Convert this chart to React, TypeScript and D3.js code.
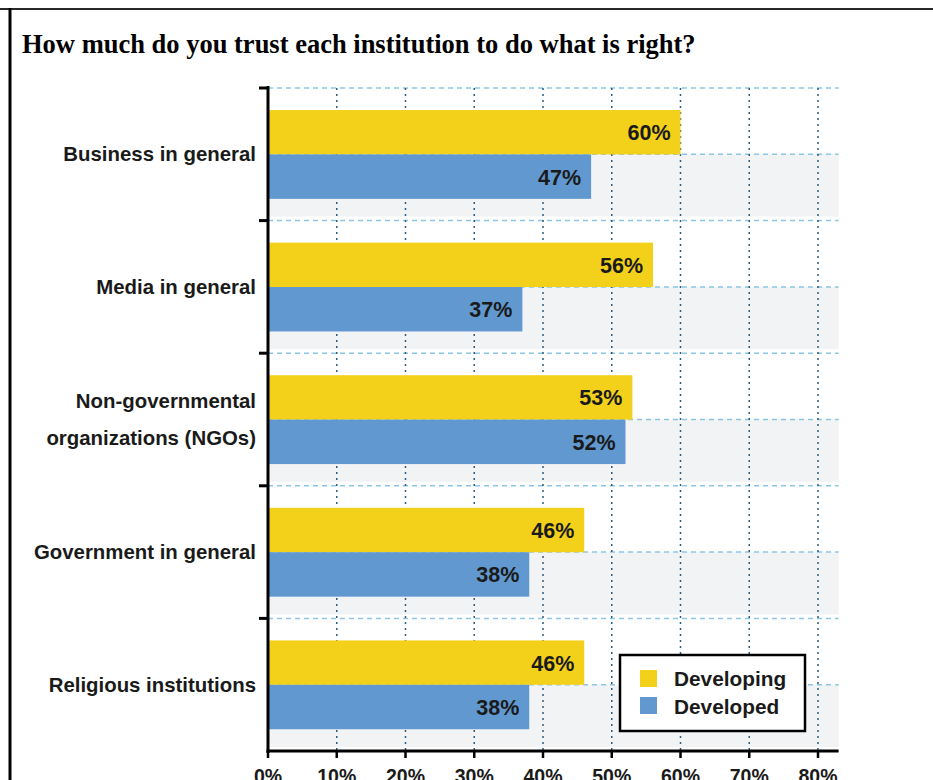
import React from "react";
import * as d3 from "d3";

const categories = [
  "Business in general",
  "Media in general",
  "Non-governmental organizations (NGOs)",
  "Government in general",
  "Religious institutions",
];
const categoryLines = [
  ["Business in general"],
  ["Media in general"],
  ["Non-governmental", "organizations (NGOs)"],
  ["Government in general"],
  ["Religious institutions"],
];
const seriesNames = ["Developing", "Developed"];
const developing = [60, 56, 53, 46, 46];
const developed = [47, 37, 52, 38, 38];
const xTicks = [0, 10, 20, 30, 40, 50, 60, 70, 80];
const title = "How much do you trust each institution to do what is right?";

const colors = ["#f3d11b", "#6198d0"];
const SANS = "'Liberation Sans', Arial, Helvetica, sans-serif";
const SERIF = "'Liberation Serif', 'Times New Roman', serif";

export default function App() {
  const W = 933;
  const H = 780;
  const x = d3.scaleLinear().domain([0, 80]).range([268, 818]);
  const xEnd = x(83);
  const y = d3.scaleBand<string>().domain(categories).range([88, 751]).paddingInner(0).paddingOuter(0);
  const bw = y.bandwidth();
  const inner = d3.scaleBand<string>().domain(seriesNames).range([bw * 0.166, bw * 0.836]);
  const series = [developing, developed];
  const y0 = 88;
  const y1 = 751;

  return (
    <svg width={W} height={H} style={{ position: "absolute", left: 0, top: 0, background: "#fff" }}>
      {/* frame */}
      <line x1={0} x2={W} y1={9} y2={9} stroke="#2a2a2a" strokeWidth={2} />
      <line x1={10} x2={10} y1={8} y2={H} stroke="#000" strokeWidth={3} />
      <text x={22} y={53} fontFamily={SERIF} fontWeight="bold" fontSize={26.5} fill="#000">
        {title}
      </text>

      {/* band backgrounds */}
      {categories.map((c) => (
        <rect key={"bg" + c} x={x(0)} y={(y(c) as number) + bw / 2} width={xEnd - x(0)} height={bw / 2 - 4} fill="#f2f3f4" />
      ))}

      {/* horizontal dashed lines */}
      {categories.map((c) => (
        <g key={"h" + c}>
          <line x1={x(0)} x2={xEnd} y1={y(c) as number} y2={y(c) as number} stroke="#8cc6e4" strokeWidth={1.5} strokeDasharray="5,4" />
          <line x1={x(0)} x2={xEnd} y1={(y(c) as number) + bw / 2} y2={(y(c) as number) + bw / 2} stroke="#8cc6e4" strokeWidth={1.5} strokeDasharray="5,4" />
        </g>
      ))}

      {/* vertical grid */}
      {xTicks.filter((t) => t > 0).map((t) => (
        <line key={"v" + t} x1={x(t)} x2={x(t)} y1={y0} y2={y1} stroke="#2d5b7e" strokeWidth={1.5} strokeDasharray="2,4" />
      ))}

      {/* bars */}
      {categories.map((c, i) =>
        seriesNames.map((s, j) => {
          const v = series[j][i];
          const by = (y(c) as number) + (inner(s) as number);
          const bh = inner.bandwidth();
          return (
            <g key={c + s}>
              <rect x={x(0)} y={by} width={x(v) - x(0)} height={bh} fill={colors[j]} />
              <text x={x(v) - 10} y={by + bh / 2 + 8} textAnchor="end" fontFamily={SANS} fontWeight="bold" fontSize={21.5} fill="#1a1a1a">
                {v}%
              </text>
            </g>
          );
        })
      )}

      {/* y axis */}
      <line x1={x(0)} x2={x(0)} y1={y0 - 2} y2={y1 + 2} stroke="#000" strokeWidth={3} />
      {categories.map((c) => (
        <line key={"yt" + c} x1={x(0) - 9} x2={x(0)} y1={y(c) as number} y2={y(c) as number} stroke="#000" strokeWidth={3} />
      ))}
      {categories.map((c, i) => {
        const cy = (y(c) as number) + bw / 2;
        const lines = categoryLines[i];
        const lh = 37;
        return (
          <text key={"yl" + c} textAnchor="end" fontFamily={SANS} fontWeight="bold" fontSize={20.4} fill="#1a1a1a">
            {lines.map((l, k) => (
              <tspan key={k} x={256} y={cy + 7 + (k - (lines.length - 1) / 2) * lh}>
                {l}
              </tspan>
            ))}
          </text>
        );
      })}

      {/* x axis */}
      <line x1={x(0) - 1.5} x2={xEnd} y1={y1} y2={y1} stroke="#000" strokeWidth={3} />
      {xTicks.map((t) => (
        <g key={"xt" + t}>
          <line x1={x(t)} x2={x(t)} y1={y1} y2={y1 + 7} stroke="#000" strokeWidth={2.5} />
          <text x={x(t)} y={783} textAnchor="middle" fontFamily={SANS} fontWeight="bold" fontSize={19.5} fill="#1a1a1a">
            {t}%
          </text>
        </g>
      ))}

      {/* legend */}
      <rect x={620} y={655} width={185} height={76} fill="#fff" stroke="#000" strokeWidth={2.5} />
      {seriesNames.map((s, j) => (
        <g key={"lg" + s}>
          <rect x={640} y={670 + j * 27} width={17} height={17} fill={colors[j]} />
          <text x={674} y={686 + j * 28} fontFamily={SANS} fontWeight="bold" fontSize={20.8} fill="#1a1a1a">
            {s}
          </text>
        </g>
      ))}
    </svg>
  );
}
